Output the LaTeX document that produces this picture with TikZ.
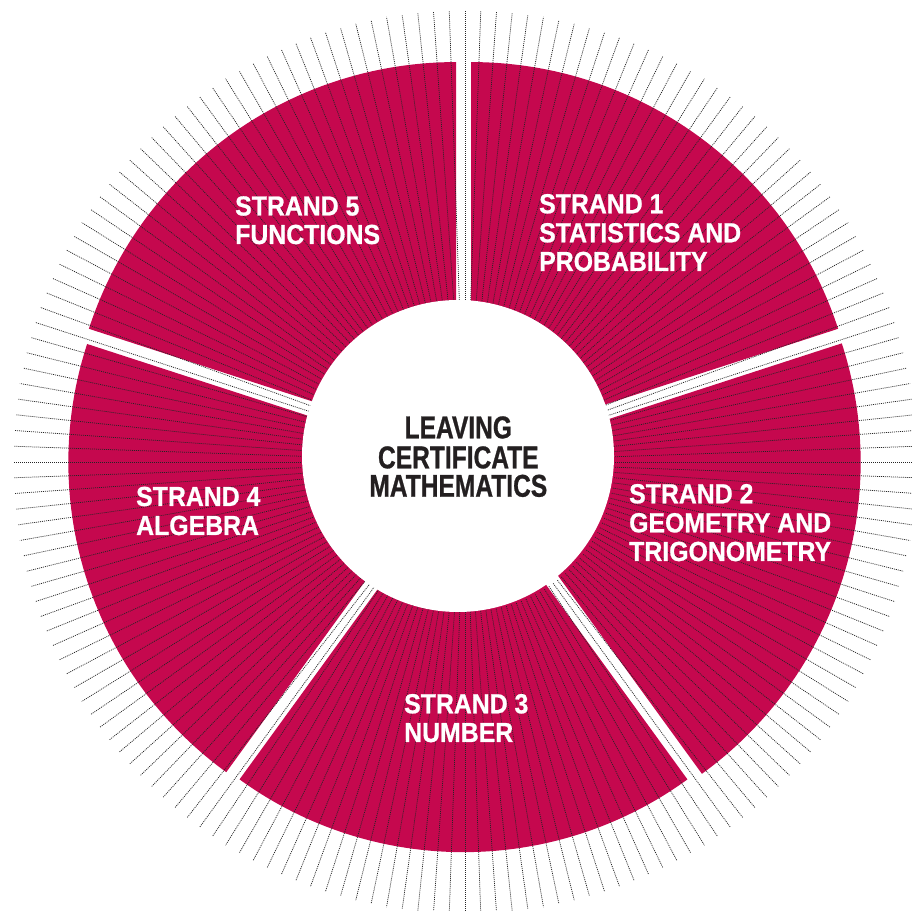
\documentclass[tikz,border=0pt]{standalone}
\usepackage{fontspec}
\newfontfamily\strandfont{Liberation Sans Bold}[FakeStretch=0.9, FakeBold=0.8]
\newfontfamily\titlefont{Liberation Sans Bold}[FakeStretch=0.78, FakeBold=0.8]
\usetikzlibrary{calc}
\definecolor{strandred}{RGB}{197,8,78}
\definecolor{titleink}{RGB}{35,31,32}
\tikzset{
  sector/.style={fill=strandred, draw=none},
  rayline/.style={draw=black!85, line width=0.75pt, dash pattern=on 1pt off 1pt},
  hub/.style={fill=white, draw=none},
  strandlbl/.style={anchor=base west, inner sep=0pt, text=white,
    font=\strandfont\fontsize{27.6}{28.8}\selectfont},
  titlelbl/.style={anchor=base, inner sep=0pt, text=titleink,
    font=\titlefont\fontsize{31.5}{29.2}\selectfont}
}
\begin{document}
\begin{tikzpicture}[x=1pt, y=1pt]
\useasboundingbox (0,0) rectangle (912,910);
\clip (0,0) rectangle (912,910);
\coordinate (P) at (463.5,451.6);
\coordinate (L) at (465,448);
\coordinate (H) at (458,454);
% exploded sectors
\foreach \name/\th/\R in {1/54/386, 2/-18/385, 3/-90/381, 4/198/383, 5/126/386}{
  \fill[sector] ($(P)+(\th:12.75pt)$) coordinate (c\name)
     -- ++(\th-36:\R pt) arc[start angle=\th-36, end angle=\th+36, radius=\R pt] -- cycle;
}
% radial dotted rays
\foreach \a in {0,2,...,358}{
  \draw[rayline] ($(L)+(\a:150pt)$) -- ($(L)+(\a:452pt)$);
}
% central hub
\fill[hub] (H) circle[radius=156pt];
\node[titlelbl] (t1) at (458.3,471.7) {LEAVING};
\node[titlelbl] (t2) at (458.3,441.7) {CERTIFICATE};
\node[titlelbl] (t3) at (458.3,413.3) {MATHEMATICS};
% strand labels
\node[strandlbl] (s1a) at (539,696.7) {STRAND 1};
\node[strandlbl] (s1b) at (539,667.7) {STATISTICS AND};
\node[strandlbl] (s1c) at (539,639) {PROBABILITY};
\node[strandlbl] (s2a) at (629,406.7) {STRAND 2};
\node[strandlbl] (s2b) at (629,377.7) {GEOMETRY AND};
\node[strandlbl] (s2c) at (629,349) {TRIGONOMETRY};
\node[strandlbl] (s3a) at (404,196.7) {STRAND 3};
\node[strandlbl] (s3b) at (404,168) {NUMBER};
\node[strandlbl] (s4a) at (136,404) {STRAND 4};
\node[strandlbl] (s4b) at (136,375) {ALGEBRA};
\node[strandlbl] (s5a) at (235,694.5) {STRAND 5};
\node[strandlbl] (s5b) at (235,666) {FUNCTIONS};
\end{tikzpicture}
\end{document}
